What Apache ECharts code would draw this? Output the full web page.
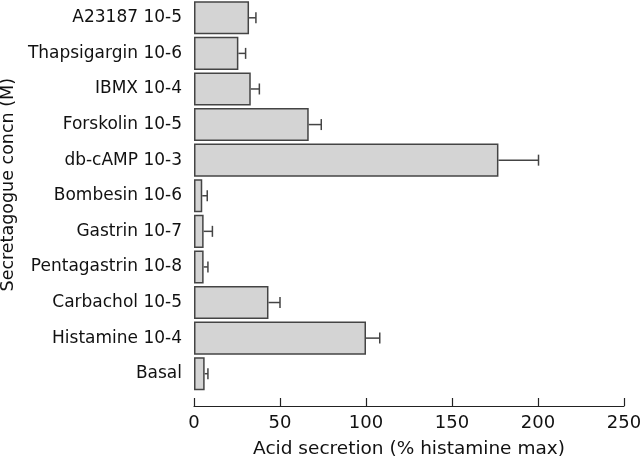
<!DOCTYPE html>
<html>
<head>
<meta charset="utf-8">
<script src="https://cdn.jsdelivr.net/npm/echarts@6/dist/echarts.min.js"></script>
<style>html,body{margin:0;padding:0;background:#fff}#c{width:640px;height:462px}</style>
</head>
<body>
<div id="c"></div>
<script>
var categories = ['A23187 10-5','Thapsigargin 10-6','IBMX 10-4','Forskolin 10-5','db-cAMP 10-3','Bombesin 10-6','Gastrin 10-7','Pentagastrin 10-8','Carbachol 10-5','Histamine 10-4','Basal'];
var means = [32, 25.8, 33, 66.7, 177, 4.8, 5.6, 5.6, 43.3, 100, 6.2];
var errors = [4, 4.2, 5, 7.3, 23.3, 2.9, 5.1, 2.5, 6.7, 8, 1.9];
var xTicks = [0, 50, 100, 150, 200, 250];

var chart = echarts.init(document.getElementById('c'), null, {renderer: 'canvas'});
var font = 'DejaVu Sans';
chart.setOption({
  animation: false,
  grid: {left: 194, right: 16, top: 0, bottom: 70.5, containLabel: false, outerBoundsMode: 'none'},
  xAxis: {
    type: 'value', min: xTicks[0], max: xTicks[xTicks.length - 1], interval: 50,
    offset: 14.5,
    splitLine: {show: false},
    axisLine: {show: true, lineStyle: {color: '#222', width: 1.2}},
    axisTick: {show: true, inside: true, length: 8, lineStyle: {color: '#222', width: 1.2}},
    axisLabel: {color: '#111', fontSize: 18, fontFamily: font, margin: 8},
    name: 'Acid secretion (% histamine max)',
    nameLocation: 'middle', nameGap: 34,
    nameTextStyle: {color: '#111', fontSize: 18.5, fontFamily: font}
  },
  yAxis: {
    type: 'category', data: categories, inverse: true,
    axisLine: {show: false}, axisTick: {show: false},
    axisLabel: {color: '#111', fontSize: 17, fontFamily: font, margin: 12},
    name: 'Secretagogue concn (M)',
    nameLocation: 'middle', nameGap: 175, nameRotate: 90,
    nameTextStyle: {color: '#111', fontSize: 17.5, fontFamily: font, padding: [0, 0, 0, 22]}
  },
  series: [{
    type: 'bar', data: means, barCategoryGap: '7%',
    itemStyle: {color: '#d4d4d4', borderColor: '#444', borderWidth: 1.5}
  }, {
    type: 'custom',
    data: means.map(function (m, i) { return [m, i, errors[i]]; }),
    renderItem: function (params, api) {
      var m = api.value(0), i = api.value(1), e = api.value(2);
      var p0 = api.coord([m, i]);
      var p1 = api.coord([m + e, i]);
      var h = 5.5;
      var st = {stroke: '#444', lineWidth: 1.5};
      return {type: 'group', children: [
        {type: 'line', shape: {x1: p0[0], y1: p0[1], x2: p1[0], y2: p1[1]}, style: st},
        {type: 'line', shape: {x1: p1[0], y1: p1[1] - h, x2: p1[0], y2: p1[1] + h}, style: st}
      ]};
    },
    z: 3
  }]
});
</script>
</body>
</html>
